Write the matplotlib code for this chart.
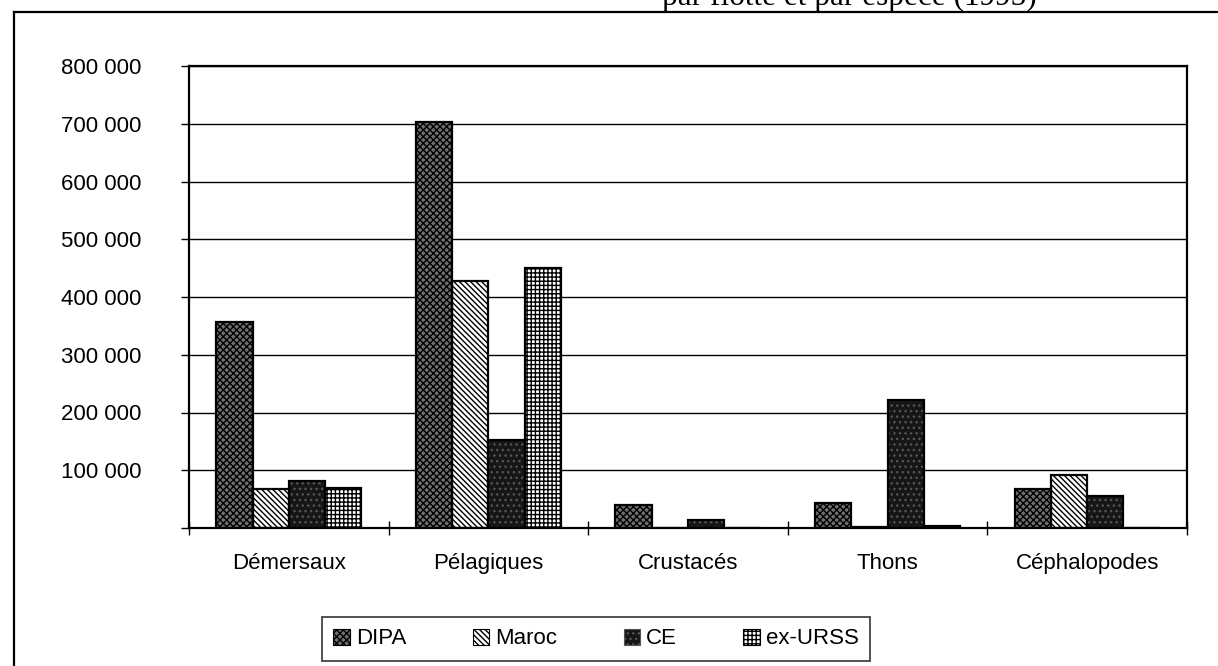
import matplotlib
matplotlib.use("Agg")
import matplotlib.pyplot as plt
from matplotlib.patches import Patch
from matplotlib.lines import Line2D
from matplotlib.ticker import FixedLocator, FuncFormatter
import numpy as np

# Catches by fleet and species group, 1995 (tonnes)
categories = ["Démersaux", "Pélagiques", "Crustacés", "Thons", "Céphalopodes"]
fleets = ["DIPA", "Maroc", "CE", "ex-URSS"]
dipa = [357000, 703000, 40000, 44000, 68000]
maroc = [68000, 427000, 0, 2000, 92000]
ce = [82000, 152000, 13000, 221000, 55000]
ex_urss = [69000, 450000, 0, 3000, 0]
y_ticks = [0, 100000, 200000, 300000, 400000, 500000, 600000, 700000, 800000]

plt.rcParams["font.family"] = ["Liberation Sans", "DejaVu Sans"]
plt.rcParams["hatch.linewidth"] = 1.0

W, H = 1218, 666
fig = plt.figure(figsize=(W / 100, H / 100), dpi=100)
fig.patch.set_facecolor("white")

# outer frame (left and top edges)
fig.add_artist(Line2D([14 / W, 14 / W], [0, 1 - 12 / H], transform=fig.transFigure,
                      color="black", lw=1.6))
fig.add_artist(Line2D([14 / W, 1], [1 - 12 / H, 1 - 12 / H], transform=fig.transFigure,
                      color="black", lw=1.6))
fig.text(1037 / W, 1 - 5 / H, "par flotte et par espèce (1995)", ha="right",
         va="baseline", fontfamily="Liberation Serif", fontsize=22.5)

ax = fig.add_axes([189 / W, (H - 528) / H, 998 / W, 462 / H])

series = [dipa, maroc, ce, ex_urss]
styles = [
    dict(facecolor="#707070", hatch="xxxxx", hcolor="black"),
    dict(facecolor="white", hatch="\\\\\\\\\\\\", hcolor="black"),
    dict(facecolor="#161616", hatch="...", hcolor="#555555"),
    dict(facecolor="white", hatch="++++", hcolor="black"),
]
x = np.arange(len(categories))
bw = 1 / 5.5
for i, (vals, st) in enumerate(zip(series, styles)):
    pos = x + (i - 1.5) * bw
    ax.bar(pos, vals, width=bw, color=st["facecolor"], edgecolor=st["hcolor"],
           hatch=st["hatch"], linewidth=0, zorder=2)
    ax.bar(pos, vals, width=bw, fill=False, edgecolor="black", linewidth=1.6, zorder=3)

ax.set_xlim(-0.5, len(categories) - 0.5)
ax.set_ylim(0, 800000)
ax.set_axisbelow(True)
ax.yaxis.set_major_locator(FixedLocator(y_ticks))
ax.yaxis.set_major_formatter(FuncFormatter(
    lambda v, p: "" if v == 0 else f"{int(v):,}".replace(",", " ")))
ax.grid(axis="y", color="black", lw=1.0)
ax.set_xticks(x)
ax.set_xticklabels(categories)
ax.xaxis.set_minor_locator(FixedLocator(np.arange(-0.5, len(categories), 1.0)))
ax.tick_params(axis="x", which="major", length=0, pad=18, labelsize=16)
ax.tick_params(axis="x", which="minor", length=10, direction="inout", width=1.0)
ax.tick_params(axis="y", length=6, direction="out", width=1.0, pad=28, labelsize=16)
for s in ax.spines.values():
    s.set_color("black")
    s.set_linewidth(1.6)

handles = []
for st in styles:
    handles.append(Patch(facecolor=st["facecolor"], edgecolor=st["hcolor"],
                         hatch=st["hatch"], linewidth=0))
leg = fig.legend(handles, fleets, loc="center", bbox_to_anchor=(596 / W, 1 - 639 / H),
                 ncol=4, frameon=True, fancybox=False, edgecolor="black",
                 fontsize=16, handlelength=0.75, handleheight=0.75,
                 handletextpad=0.25, columnspacing=3.0, borderpad=0.5)
leg.get_frame().set_linewidth(1.2)
for h in leg.legend_handles:
    h.set_linewidth(0.8)

fig.savefig("out.png", dpi=100, facecolor="white")
